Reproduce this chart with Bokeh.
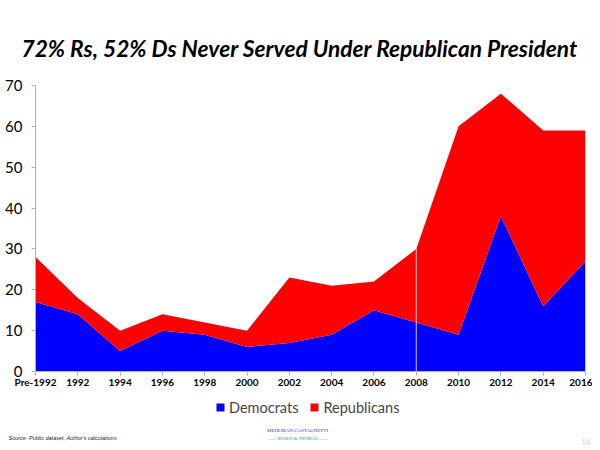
from bokeh.plotting import figure
from bokeh.layouts import column
from bokeh.models import ColumnDataSource, FixedTicker, Legend, LegendItem
from bokeh.core.properties import value
from bokeh.embed import file_html
from bokeh.resources import INLINE

categories = ["Pre-1992", "1992", "1994", "1996", "1998", "2000", "2002",
              "2004", "2006", "2008", "2010", "2012", "2014", "2016"]
democrats = [17, 14, 5, 10, 9, 6, 7, 9, 15, 12, 9, 38, 16, 27]
republicans = [11, 4, 5, 4, 3, 4, 16, 12, 7, 18, 51, 30, 43, 32]
y_ticks = [0, 10, 20, 30, 40, 50, 60, 70]
series_names = ["Democrats", "Republicans"]
series_colors = ["#0000FF", "#FF0000"]

xs = list(range(len(categories)))
totals = [d + r for d, r in zip(democrats, republicans)]
src = ColumnDataSource(dict(x=xs, dem=democrats, rep=republicans, total=totals))

W = 592
p = figure(frame_width=550, frame_height=286, output_backend="svg",
           toolbar_location=None,
           x_range=(0, len(categories) - 1), y_range=(0, 70),
           min_border_left=35, min_border_right=7, min_border_top=85,
           min_border_bottom=21,
           title="72% Rs, 52% Ds Never Served Under Republican President")
p.outline_line_color = None
p.grid.visible = False
p.title.align = "left"
p.title.offset = -14
p.title.text_font = "Lato"
p.title.text_font_style = "bold italic"
p.title.text_font_size = "22.7px"
p.title.text_color = "black"
p.title.standoff = 47

p.varea_stack(["dem", "rep"], x="x", source=src, color=series_colors)

# thin white seam at 2008
p.segment(x0=[xs[9]], y0=[0], x1=[xs[9]], y1=[totals[9]],
          line_color="white", line_width=1, line_alpha=0.8)

p.xaxis.ticker = FixedTicker(ticks=xs)
p.xaxis.major_label_overrides = {i: c for i, c in enumerate(categories)}
p.xaxis.major_label_text_font = "Lato"
p.xaxis.major_label_text_font_style = "bold"
p.xaxis.major_label_text_font_size = "10px"
p.xaxis.major_label_text_color = "black"
p.xaxis.axis_line_color = "#B0B0B0"
p.xaxis.major_tick_line_color = "#B0B0B0"
p.xaxis.major_tick_in = 0
p.xaxis.major_tick_out = 4
p.xaxis.minor_tick_line_color = None
p.xaxis.major_label_standoff = 0

p.yaxis.ticker = FixedTicker(ticks=y_ticks)
p.yaxis.major_label_text_font = "Lato"
p.yaxis.major_label_text_font_size = "15px"
p.yaxis.major_label_text_color = "black"
p.yaxis.axis_line_color = "#B0B0B0"
p.yaxis.major_tick_line_color = "#B0B0B0"
p.yaxis.major_tick_in = 0
p.yaxis.major_tick_out = 4
p.yaxis.minor_tick_line_color = None
p.yaxis.major_label_standoff = 9

# footer strip: legend and credits
H2 = 56
f = figure(width=W, height=H2, output_backend="svg", toolbar_location=None,
           x_range=(0, W), y_range=(0, H2), x_axis_type=None, y_axis_type=None,
           min_border=0)
f.outline_line_color = None
f.grid.visible = False

swatches = f.varea_stack(["dem", "rep"], x="x", source=src, color=series_colors)
for r in swatches:
    r.visible = False
legend = Legend(items=[LegendItem(label=n, renderers=[r])
                       for n, r in zip(series_names, swatches)],
                orientation="horizontal", location=(215, 32),
                label_text_font="Lato", label_text_font_size="14.5px",
                glyph_width=10, glyph_height=10, label_standoff=4,
                spacing=11, padding=0, margin=0, label_height=18,
                inactive_fill_alpha=0,
                border_line_color=None, background_fill_alpha=0)
f.add_layout(legend, "center")

f.text(x=[8], y=[H2 - 45], text=["Source: Public dataset, Author's calculations"],
       text_align="left", text_baseline="middle",
       text_font=value("Liberation Sans"), text_font_style="italic",
       text_font_size="5.5px", text_color="#222222")
f.text(x=[297], y=[H2 - 38], text=["MEHLMAN CASTAGNETTI"],
       text_align="center", text_baseline="middle",
       text_font=value("Liberation Serif"), text_font_size="5px",
       text_color="#2E3A8C")
f.text(x=[297], y=[H2 - 45.5], text=["\u2014\u2014 ROSEN & THOMAS \u2014\u2014"],
       text_align="center", text_baseline="middle",
       text_font=value("Liberation Serif"), text_font_size="4.5px",
       text_color="#2E9A4A")
f.text(x=[590], y=[H2 - 49], text=["14"], text_align="right",
       text_baseline="middle", text_font=value("Lato"),
       text_font_size="8px", text_color="#D0D0D0")

layout = column(p, column(f))
open("out.html", "w").write(file_html(layout, INLINE))
